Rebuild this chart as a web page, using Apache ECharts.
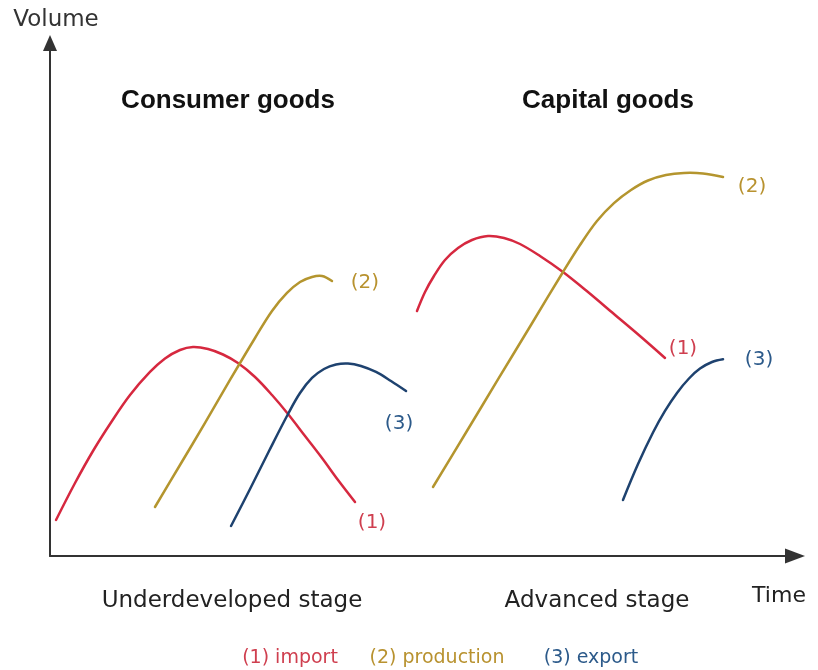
<!DOCTYPE html>
<html>
<head>
<meta charset="utf-8">
<script src="https://cdn.jsdelivr.net/npm/echarts@6/dist/echarts.min.js"></script>
<style>
html,body{margin:0;padding:0;background:#fff;}
#chart{width:818px;height:670px;}
</style>
</head>
<body>
<div id="chart"></div>
<script>
// Conceptual chart: Time (0-100) vs Volume (0-100)
var consumerImport = [[0.81,7.02],[3.36,14.23],[5.77,20.47],[8.32,26.32],[10.74,31.38],[13.42,35.87],[15.44,38.50],[17.45,40.16],[19.19,40.74],[21.21,40.35],[23.22,39.28],[25.23,37.62],[27.52,34.89],[29.80,31.38],[31.95,27.68],[34.23,23.39],[36.51,19.10],[38.66,14.81],[40.94,10.53]];
var consumerProduction = [[14.09,9.55],[17.45,17.74],[20.81,25.93],[24.16,34.31],[27.52,42.50],[29.80,47.76],[31.81,51.27],[33.56,53.41],[35.17,54.39],[36.51,54.58],[37.85,53.61]];
var consumerExport = [[24.30,5.85],[26.85,13.06],[29.40,20.47],[31.95,27.68],[33.56,31.77],[35.17,34.70],[36.78,36.45],[38.39,37.33],[40.00,37.52],[41.74,37.04],[43.76,35.87],[45.77,34.11],[47.79,32.16]];
var capitalImport = [[49.26,47.76],[50.34,51.46],[51.54,54.58],[53.02,57.70],[54.77,60.04],[56.64,61.60],[58.79,62.38],[60.94,61.99],[63.09,60.82],[65.77,58.48],[68.86,55.36],[72.21,51.46],[75.70,47.17],[79.19,42.88],[82.55,38.60]];
var capitalProduction = [[51.41,13.45],[55.84,24.07],[60.13,34.41],[64.56,45.03],[68.86,55.36],[71.14,60.62],[73.42,65.30],[75.70,68.79],[77.99,71.35],[80.27,73.20],[82.68,74.27],[85.10,74.66],[87.65,74.56],[90.34,73.88]];
var capitalExport = [[76.91,10.92],[78.93,17.93],[80.94,24.07],[82.55,28.28],[84.16,31.79],[85.77,34.60],[87.25,36.53],[88.86,37.82],[90.34,38.34]];

var curveLabels = ['(1)', '(2)', '(3)'];
var groupTitles = ['Consumer goods', 'Capital goods'];
var stageLabels = ['Underdeveloped stage', 'Advanced stage'];
var legendLabels = ['(1) import', '(2) production', '(3) export'];
var axisNames = ['Time', 'Volume'];

var RED = '#d6283f', GOLD = '#b4952e', BLUE = '#1e426f';
var RED_T = '#cf3f4f', GOLD_T = '#b8922f', BLUE_T = '#2c5a8a';
var FONT = '"DejaVu Sans", sans-serif';
var BOLD_FONT = 'bold 26px "Liberation Sans", Arial, sans-serif';

function mk(points, color, textColor, label, offset) {
  return {
    type: 'custom',
    coordinateSystem: 'cartesian2d',
    data: points,
    encode: { x: 0, y: 1 },
    silent: true,
    animation: false,
    renderItem: function (params, api) {
      if (params.dataIndex !== 0) return null;
      var pts = points.map(function (p) { return api.coord(p); });
      var end = pts[pts.length - 1];
      return {
        type: 'group',
        children: [
          {
            type: 'polyline',
            shape: { points: pts, smooth: 0.35 },
            style: { stroke: color, lineWidth: 2.5, fill: 'none', lineCap: 'round', lineJoin: 'round' }
          },
          {
            type: 'text',
            x: end[0] + offset[0], y: end[1] + offset[1],
            style: { text: label, fill: textColor, font: '20px ' + FONT, textAlign: 'center', textVerticalAlign: 'middle', verticalAlign: 'middle' }
          }
        ]
      };
    }
  };
}

var chart = echarts.init(document.getElementById('chart'), null, { renderer: 'canvas' });
chart.setOption({
  backgroundColor: '#fff',
  animation: false,
  grid: { left: 50, right: 23, top: 43, bottom: 114 },
  xAxis: {
    type: 'value', min: 0, max: 100,
    axisLine: { show: true, symbol: ['none', 'triangle'], symbolSize: [15, 20], lineStyle: { color: '#333', width: 2 } },
    axisTick: { show: false }, axisLabel: { show: false }, splitLine: { show: false }
  },
  yAxis: {
    type: 'value', min: 0, max: 100,
    axisLine: { show: true, symbol: ['none', 'triangle'], symbolSize: [14, 16], lineStyle: { color: '#333', width: 2 } },
    axisTick: { show: false }, axisLabel: { show: false }, splitLine: { show: false }
  },
  series: [
    mk(consumerImport, RED, RED_T, curveLabels[0], [17, 21]),
    mk(consumerProduction, GOLD, GOLD_T, curveLabels[1], [33, 2]),
    mk(consumerExport, BLUE, BLUE_T, curveLabels[2], [-7, 33]),
    mk(capitalImport, RED, RED_T, curveLabels[0], [18, -9]),
    mk(capitalProduction, GOLD, GOLD_T, curveLabels[1], [29, 10]),
    mk(capitalExport, BLUE, BLUE_T, curveLabels[2], [36, 0])
  ],
  graphic: [
    { type: 'text', x: 56, y: 20, style: { text: axisNames[1], font: '23px ' + FONT, fill: '#333', textAlign: 'center', textVerticalAlign: 'middle', verticalAlign: 'middle' } },
    { type: 'text', x: 779, y: 596, style: { text: axisNames[0], font: '22px ' + FONT, fill: '#222', textAlign: 'center', textVerticalAlign: 'middle', verticalAlign: 'middle' } },
    { type: 'text', x: 228, y: 101, style: { text: groupTitles[0], font: BOLD_FONT, fill: '#111', textAlign: 'center', textVerticalAlign: 'middle', verticalAlign: 'middle' } },
    { type: 'text', x: 608, y: 101, style: { text: groupTitles[1], font: BOLD_FONT, fill: '#111', textAlign: 'center', textVerticalAlign: 'middle', verticalAlign: 'middle' } },
    { type: 'text', x: 232, y: 601, style: { text: stageLabels[0], font: '23px ' + FONT, fill: '#222', textAlign: 'center', textVerticalAlign: 'middle', verticalAlign: 'middle' } },
    { type: 'text', x: 597, y: 601, style: { text: stageLabels[1], font: '23px ' + FONT, fill: '#222', textAlign: 'center', textVerticalAlign: 'middle', verticalAlign: 'middle' } },
    { type: 'text', x: 290, y: 658, style: { text: legendLabels[0], font: '19px ' + FONT, fill: RED_T, textAlign: 'center', textVerticalAlign: 'middle', verticalAlign: 'middle' } },
    { type: 'text', x: 437, y: 658, style: { text: legendLabels[1], font: '19px ' + FONT, fill: GOLD_T, textAlign: 'center', textVerticalAlign: 'middle', verticalAlign: 'middle' } },
    { type: 'text', x: 591, y: 658, style: { text: legendLabels[2], font: '19px ' + FONT, fill: BLUE_T, textAlign: 'center', textVerticalAlign: 'middle', verticalAlign: 'middle' } }
  ]
});
</script>
</body>
</html>
